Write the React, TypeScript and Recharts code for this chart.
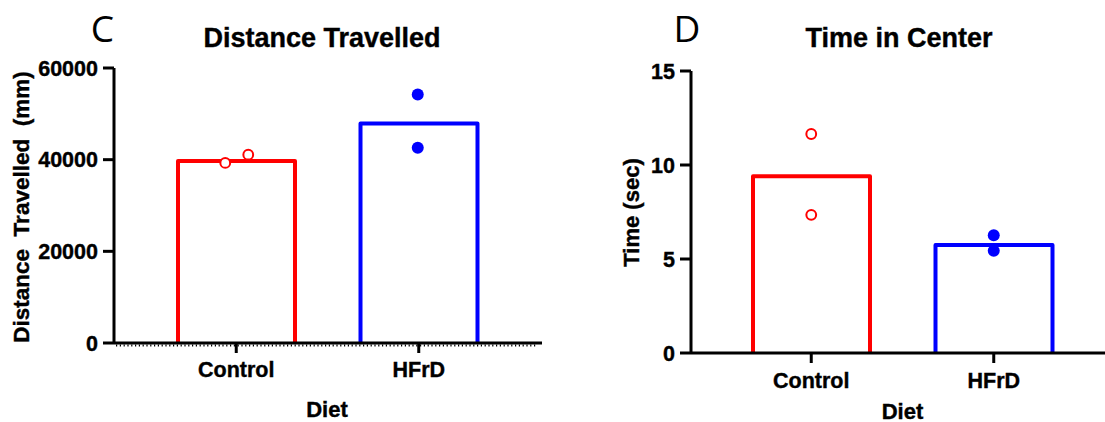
import React from 'react';
import { ComposedChart, Bar, Scatter, XAxis, YAxis, ReferenceLine } from 'recharts';

// groups
const diets = ['Control', 'HFrD'];
const colors = ['#ff0000', '#0000ff'];

// panel C - distance travelled (mm)
const distanceMeans = [39700, 47900];
const distanceMouseA = [39300, 54200];
const distanceMouseB = [41100, 42600];
const distanceTicks = [0, 20000, 40000, 60000];

// panel D - time in center (sec)
const centerMeans = [9.4, 5.75];
const centerMouseA = [11.65, 6.26];
const centerMouseB = [7.35, 5.44];
const centerTicks = [0, 5, 10, 15];

const FONT = '"Liberation Sans", Arial, sans-serif';

const buildRows = (means: number[], a: number[], b: number[]) =>
  diets.map((diet, i) => ({ diet, mean: means[i], a: a[i], b: b[i] }));

const distanceRows = buildRows(distanceMeans, distanceMouseA, distanceMouseB);
const centerRows = buildRows(centerMeans, centerMouseA, centerMouseB);

const tickStyle = { fill: '#000', fontSize: 21.5, fontWeight: 700, fontFamily: FONT, stroke: '#000', strokeWidth: 0.4 };

const OpenBar = (props: any) => {
  const { x, y, width, height, payload } = props;
  const c = colors[diets.indexOf(payload.diet)];
  return (
    <path
      d={`M${x},${y + height} L${x},${y} L${x + width},${y} L${x + width},${y + height}`}
      fill="none"
      stroke={c}
      strokeWidth={4}
      strokeLinejoin="round"
    />
  );
};

// jitter is per group, in px
const makeDot = (jitter: number[]) => (props: any) => {
  const { cx, cy, payload } = props;
  const i = diets.indexOf(payload.diet);
  if (cx == null || cy == null) return <g />;
  const x = cx + jitter[i];
  if (i === 0) {
    return <circle cx={x} cy={cy} r={4.9} fill="#fff" stroke={colors[i]} strokeWidth={2} />;
  }
  return <circle cx={x} cy={cy} r={6} fill={colors[i]} />;
};

const ZeroDots = (p: any) => (
  <line
    x1={p.x1 + 2}
    y1={p.y1 + 2.5}
    x2={p.x2 - 6}
    y2={p.y2 + 2.5}
    stroke="#000"
    strokeWidth={2}
    strokeDasharray="1.2 2.6"
  />
);

export default function App() {
  return (
    <div style={{ position: 'absolute', left: 0, top: 0, width: 1105, height: 422, background: '#fff' }}>
      <div style={{ position: 'absolute', left: 0, top: 0 }}>
        <ComposedChart width={560} height={422} data={distanceRows} margin={{ top: 68, right: 18, bottom: 0, left: 0 }}>
          <XAxis
            dataKey="diet"
            interval={0}
            padding={{ left: 31, right: 32 }}
            height={79}
            tickSize={10}
            tickMargin={9}
            tick={tickStyle}
            axisLine={{ stroke: '#000', strokeWidth: 3 }}
            tickLine={{ stroke: '#000', strokeWidth: 3 }}
          />
          <YAxis
            width={114}
            domain={[0, 60000]}
            ticks={distanceTicks}
            interval={0}
            tickSize={11}
            tickMargin={5}
            tick={tickStyle}
            axisLine={{ stroke: '#000', strokeWidth: 3 }}
            tickLine={{ stroke: '#000', strokeWidth: 3 }}
          />
          <ReferenceLine y={0} shape={ZeroDots} />
          <Bar dataKey="mean" barSize={117} shape={OpenBar} isAnimationActive={false} />
          <Scatter dataKey="a" shape={makeDot([-11, -1])} isAnimationActive={false} />
          <Scatter dataKey="b" shape={makeDot([12, -1])} isAnimationActive={false} />
        </ComposedChart>
      </div>
      <div style={{ position: 'absolute', left: 560, top: 0 }}>
        <ComposedChart width={545} height={422} data={centerRows} margin={{ top: 71, right: 0, bottom: 0, left: 0 }}>
          <XAxis
            dataKey="diet"
            interval={0}
            padding={{ left: 29, right: 20 }}
            height={69}
            tickSize={10}
            tickMargin={10}
            tick={tickStyle}
            axisLine={{ stroke: '#000', strokeWidth: 3 }}
            tickLine={{ stroke: '#000', strokeWidth: 3 }}
          />
          <YAxis
            width={131}
            domain={[0, 15]}
            ticks={centerTicks}
            interval={0}
            tickSize={11}
            tickMargin={5}
            tick={tickStyle}
            axisLine={{ stroke: '#000', strokeWidth: 3 }}
            tickLine={{ stroke: '#000', strokeWidth: 3 }}
          />
          <Bar dataKey="mean" barSize={117} shape={OpenBar} isAnimationActive={false} />
          <Scatter dataKey="a" shape={makeDot([0, 0])} isAnimationActive={false} />
          <Scatter dataKey="b" shape={makeDot([0, 0])} isAnimationActive={false} />
        </ComposedChart>
      </div>
      <svg width={1105} height={422} style={{ position: 'absolute', left: 0, top: 0, pointerEvents: 'none' }}>
        <text x={102.5} y={41.5} fontFamily='"Open Sans", sans-serif' fontWeight={400} fontSize={37} textAnchor="middle">C</text>
        <text x={687} y={41.5} fontFamily='"Open Sans", sans-serif' fontWeight={400} fontSize={37} textAnchor="middle">D</text>
        <g fontFamily={FONT} fontWeight={700} fill="#000" stroke="#000" strokeWidth={0.4}>
          <text x={322} y={47} fontSize={27} textAnchor="middle">Distance Travelled</text>
          <text x={899} y={47} fontSize={27} textAnchor="middle">Time in Center</text>
          <text x={28.5} y={207} fontSize={22.5} textAnchor="middle" transform="rotate(-90 28.5 207)" style={{ whiteSpace: 'pre' }}>
            {'Distance  Travelled  (mm)'}
          </text>
          <text x={638.5} y={212.5} fontSize={22} textAnchor="middle" transform="rotate(-90 638.5 212.5)">Time (sec)</text>
          <text x={327} y={417} fontSize={22} textAnchor="middle">Diet</text>
          <text x={902.5} y={418.5} fontSize={22} textAnchor="middle">Diet</text>
        </g>
      </svg>
    </div>
  );
}
